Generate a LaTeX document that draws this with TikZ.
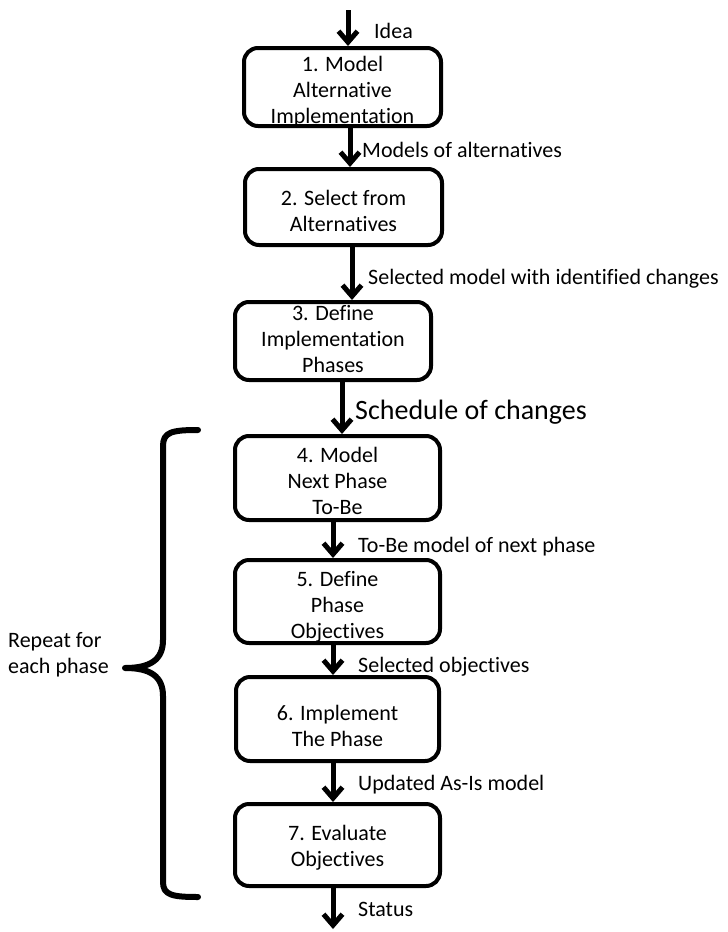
\documentclass[tikz,border=0pt]{standalone}
\usepackage{fontspec}
\setmainfont{Carlito}[Ligatures={NoCommon,NoContextual}]
\usetikzlibrary{arrows.meta}
\newcommand\boxfont{\fontsize{22pt}{25.6pt}\selectfont}
\newcommand\lblfont{\fontsize{22pt}{26pt}\selectfont}
\newcommand\bigfont{\fontsize{28pt}{32pt}\selectfont}
\tikzset{
  box/.style={draw, line width=4pt, rounded corners=14pt, inner sep=0pt},
  boxtext/.style={align=center, font=\boxfont, inner sep=0pt, anchor=base},
  arr/.style={line width=5pt, -{Straight Barb[length=11pt,width=19pt,line join=miter]}},
  lbl/.style={anchor=base west, font=\lblfont, inner sep=0pt},
  bracestyle/.style={line width=6pt, line cap=round, line join=round}
}
\begin{document}
\begin{tikzpicture}[x=1pt,y=-1pt]
\useasboundingbox (0,0) rectangle (728,932);
% boxes
\node[box, minimum width=197pt, minimum height=78pt] (b1) at (342.5,87) {};
\node[box, minimum width=197pt, minimum height=76pt] (b2) at (343.5,207) {};
\node[box, minimum width=196pt, minimum height=78pt] (b3) at (333,341) {};
\node[box, minimum width=205pt, minimum height=84pt] (b4) at (337.5,478) {};
\node[box, minimum width=205pt, minimum height=83pt] (b5) at (337.5,601.5) {};
\node[box, minimum width=203pt, minimum height=84pt] (b6) at (337.5,719) {};
\node[box, minimum width=205pt, minimum height=82pt] (b7) at (337.5,845) {};
% box texts (anchored at baseline of last line)
\node[boxtext] (t1) at (b1.center |- 0,123) {1. Model\\Alternative\\Implementation};
\node[boxtext] (t2) at (b2.center |- 0,231) {2. Select from\\Alternatives};
\node[boxtext] (t3) at (b3.center |- 0,372) {3. Define\\Implementation\\Phases};
\node[boxtext] (t4) at (b4.center |- 0,514) {4. Model\\Next Phase\\To-Be};
\node[boxtext] (t5) at (b5.center |- 0,638) {5. Define\\Phase\\Objectives};
\node[boxtext] (t6) at (b6.center |- 0,746) {6. Implement\\The Phase};
\node[boxtext] (t7) at (b7.center |- 0,866) {7. Evaluate\\Objectives};
% connectors
\coordinate (start) at (348,10);
\coordinate (finish) at (333,929);
\draw[arr] (start) -- (b1.north -| start);
\draw[arr] (b1.south -| 350,0) -- (b2.north -| 350,0);
\draw[arr] (b2.south -| 352,0) -- (b3.north -| 352,0);
\draw[arr] (b3.south -| 342,0) -- (b4.north -| 342,0);
\draw[arr] (b4.south -| 333,0) -- (b5.north -| 333,0);
\draw[arr] (b5.south -| 333,0) -- (b6.north -| 333,0);
\draw[arr] (b6.south -| 333,0) -- (b7.north -| 333,0);
\draw[arr] (b7.south -| finish) -- (finish);
% connector labels
\node[lbl] (l0) at (374,38) {Idea};
\node[lbl] (l1) at (362,157) {Models of alternatives};
\node[lbl] (l2) at (368,284) {Selected model with identified changes};
\node[lbl, font=\bigfont] (l3) at (355,419) {Schedule of changes};
\node[lbl] (l4) at (358,552) {To-Be model of next phase};
\node[lbl] (l5) at (358,672) {Selected objectives};
\node[lbl] (l6) at (358,790) {Updated As-Is model};
\node[lbl] (l7) at (358,916) {Status};
% brace and its text
\node[lbl, align=left] (rep) at (8,673) {Repeat for\\each phase};
\draw[bracestyle] (198,430) .. controls (172,430) and (163,432) .. (163,446) -- (163,640)
  .. controls (163,660) and (150,668) .. (125,668)
  .. controls (150,668) and (163,676) .. (163,696) -- (163,882)
  .. controls (163,895) and (172,897) .. (198,897);
\end{tikzpicture}
\end{document}
